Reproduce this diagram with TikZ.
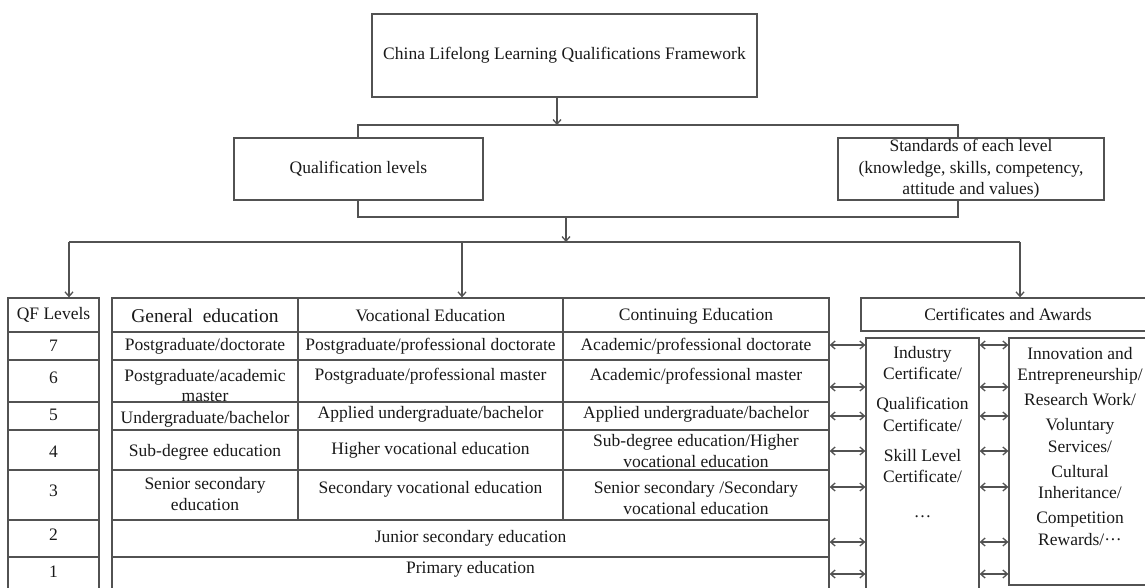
\documentclass[tikz,border=0pt]{standalone}
\usepackage{fontspec}
\setmainfont{Liberation Serif}
\usetikzlibrary{arrows.meta}

\definecolor{linegray}{rgb}{0.32,0.32,0.32}
\definecolor{inkgray}{rgb}{0.1,0.1,0.1}

\begin{document}
\begin{tikzpicture}[x=1pt, y=-1pt,
        ln/.style={linegray, line width=1.3pt},
        arr/.style={ln, -{Straight Barb[length=4.5pt, width=8pt]}},
        dbl/.style={ln, {Straight Barb[length=4.5pt, width=8pt]}-{Straight Barb[length=4.5pt, width=8pt]}},
        box/.style={draw=linegray, line width=1.3pt, inner sep=0pt},
        txt/.style={text=inkgray, align=center, inner sep=0pt, font=\fontsize{17.5}{21.5}\selectfont},
        bigtxt/.style={txt, font=\fontsize{19.5}{23}\selectfont}]
            \useasboundingbox (0,0) rectangle (1145,587);

            % upper part
            \node[box, txt, minimum width=385pt, minimum height=83pt] (title) at (564.5,55.5) {China Lifelong Learning Qualifications Framework};
            \node[box, txt, minimum width=249pt, minimum height=62pt] (qual) at (358.5,169) {Qualification levels};
            \node[box, txt, minimum width=266pt, minimum height=62pt] (std) at (971,169) {Standards of each level\\(knowledge, skills, competency,\\attitude and values)};

            \coordinate (b1l) at (358,125);
            \coordinate (b1m) at (557,125);
            \coordinate (b1r) at (958,125);
            \coordinate (b2l) at (358,217);
            \coordinate (b2m) at (566,217);
            \coordinate (b2r) at (958,217);
            \coordinate (b3l) at (69,242);
            \coordinate (b3m) at (566,242);
            \coordinate (b3c) at (462,242);
            \coordinate (b3r) at (1020,242);

            \draw[arr] (b1m |- title.south) -- (b1m);
            \draw[ln] (b1l |- qual.north) -- (b1l) -- (b1r) -- (b1r |- std.north);
            \draw[ln] (b2l |- qual.south) -- (b2l) -- (b2r) -- (b2r |- std.south);
            \draw[arr] (b2m) -- (b3m);
            \draw[ln] (b3l) -- (b3r);

            % lower part
            \node[box, minimum width=91pt, minimum height=294pt] (qf) at (53.5,445) {};
            \node[box, minimum width=717pt, minimum height=294pt] (tbl) at (470.5,445) {};
            \node[box, txt, minimum width=294pt, minimum height=33pt] (cert) at (1008,314.5) {Certificates and Awards};
            \node[box, minimum width=113pt, minimum height=257pt] (ind) at (922.5,466.5) {};
            \node[box, minimum width=142pt, minimum height=247pt] (inn) at (1080,461.5) {};

            \draw[arr] (b3l) -- (b3l |- qf.north);
            \draw[arr] (b3c) -- (b3c |- tbl.north);
            \draw[arr] (b3r) -- (b3r |- cert.north);

            \draw[ln] (8,332) -- (99,332) (112,332) -- (829,332);
            \draw[ln] (8,360) -- (99,360) (112,360) -- (829,360);
            \draw[ln] (8,402) -- (99,402) (112,402) -- (829,402);
            \draw[ln] (8,430) -- (99,430) (112,430) -- (829,430);
            \draw[ln] (8,470) -- (99,470) (112,470) -- (829,470);
            \draw[ln] (8,520) -- (99,520) (112,520) -- (829,520);
            \draw[ln] (8,557) -- (99,557) (112,557) -- (829,557);
            \draw[ln] (298,298) -- (298,520);
            \draw[ln] (563,298) -- (563,520);

            \node[txt] (qfh) at (53.5,315) {QF Levels};
            \node[txt] (q7) at (53.5,346) {7};
            \node[txt] (q6) at (53.5,378) {6};
            \node[txt] (q5) at (53.5,415) {5};
            \node[txt] (q4) at (53.5,452) {4};
            \node[txt] (q3) at (53.5,491) {3};
            \node[txt] (q2) at (53.5,535) {2};
            \node[txt] (q1) at (53.5,572) {1};

            \node[bigtxt] (gh) at (205,316) {General~ education};
            \node[txt] (g7) at (205,346) {Postgraduate/doctorate};
            \node[txt, font=\fontsize{17.5}{20}\selectfont] (g6) at (205,386) {Postgraduate/academic\\master};
            \node[txt] (g5) at (205,419) {Undergraduate/bachelor};
            \node[txt] (g4) at (205,452) {Sub-degree education};
            \node[txt] (g3) at (205,494) {Senior secondary\\education};

            \node[txt] (vh) at (430.5,316) {Vocational Education};
            \node[txt] (v7) at (430.5,346) {Postgraduate/professional doctorate};
            \node[txt] (v6) at (430.5,376) {Postgraduate/professional master};
            \node[txt] (v5) at (430.5,414) {Applied undergraduate/bachelor};
            \node[txt] (v4) at (430.5,450) {Higher vocational education};
            \node[txt] (v3) at (430.5,489) {Secondary vocational education};

            \node[txt] (ch) at (696,316) {Continuing Education};
            \node[txt] (c7) at (696,346) {Academic/professional doctorate};
            \node[txt] (c6) at (696,376) {Academic/professional master};
            \node[txt] (c5) at (696,414) {Applied undergraduate/bachelor};
            \node[txt] (c4) at (696,451) {Sub-degree education/Higher\\vocational education};
            \node[txt] (c3) at (696,498) {Senior secondary /Secondary\\vocational education};

            \node[txt] (r2) at (470.5,538) {Junior secondary education};
            \node[txt] (r1) at (470.5,569) {Primary education};

            \node[txt, anchor=north] (indtext) at (922.5,346) {Industry\\Certificate/\\[8.5pt]Qualification\\Certificate/\\[8.5pt]Skill Level\\Certificate/\\[13.5pt]\dots};
            \node[txt, anchor=north] (inntext) at (1080,347) {Innovation and\\Entrepreneurship/\\[3.5pt]Research Work/\\[3.5pt]Voluntary\\Services/\\[3.5pt]Cultural\\Inheritance/\\[3.5pt]Competition\\Rewards/···};

            \coordinate (a7) at (0,345);
            \coordinate (a6) at (0,387);
            \coordinate (a5) at (0,416);
            \coordinate (a4) at (0,451);
            \coordinate (a3) at (0,487);
            \coordinate (a2) at (0,542);
            \coordinate (a1) at (0,574);

            \draw[dbl] (tbl.east |- a7) -- (ind.west |- a7);
            \draw[dbl] (tbl.east |- a6) -- (ind.west |- a6);
            \draw[dbl] (tbl.east |- a5) -- (ind.west |- a5);
            \draw[dbl] (tbl.east |- a4) -- (ind.west |- a4);
            \draw[dbl] (tbl.east |- a3) -- (ind.west |- a3);
            \draw[dbl] (tbl.east |- a2) -- (ind.west |- a2);
            \draw[dbl] (tbl.east |- a1) -- (ind.west |- a1);
            \draw[dbl] (ind.east |- a7) -- (inn.west |- a7);
            \draw[dbl] (ind.east |- a6) -- (inn.west |- a6);
            \draw[dbl] (ind.east |- a5) -- (inn.west |- a5);
            \draw[dbl] (ind.east |- a4) -- (inn.west |- a4);
            \draw[dbl] (ind.east |- a3) -- (inn.west |- a3);
            \draw[dbl] (ind.east |- a2) -- (inn.west |- a2);
            \draw[dbl] (ind.east |- a1) -- (inn.west |- a1);
        \end{tikzpicture}
\end{document}
